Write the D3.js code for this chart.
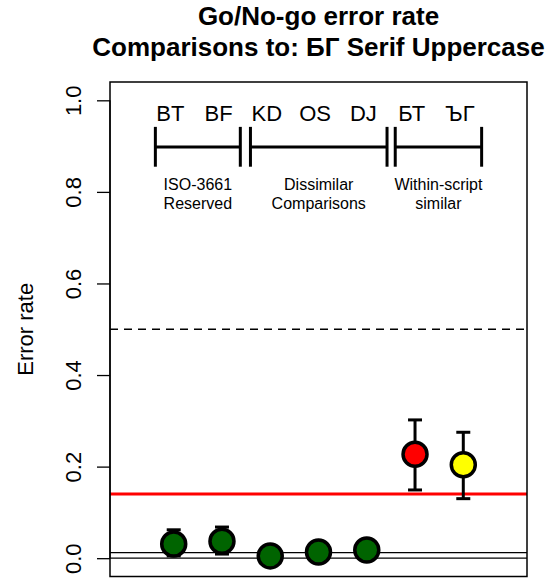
<!DOCTYPE html>
<html>
<head>
<meta charset="utf-8">
<script src="https://cdn.jsdelivr.net/npm/d3@7"></script>
<style>
  html, body { margin: 0; padding: 0; background: #fff; }
  svg { display: block; font-family: "Liberation Sans", Arial, Helvetica, sans-serif; }
</style>
</head>
<body>
<svg id="chart" width="546" height="579"></svg>
<script>
// Comparison letter pairs and their error rates with confidence bounds
const pairs     = ["BT", "BF", "KD", "OS", "DJ", "БТ", "ЪГ"];
const errorRate = [0.031, 0.037, 0.005, 0.0135, 0.018, 0.227, 0.204];
const lowerCI   = [0.005, 0.009, 0.000, 0.004, 0.008, 0.149, 0.130];
const upperCI   = [0.062, 0.068, 0.015, 0.026, 0.030, 0.302, 0.275];
const pointFill = ["#006400", "#006400", "#006400", "#006400", "#006400", "#ff0000", "#ffff00"];

// Comparison groups (x-extent on the pair index axis) and their captions
const groupNames = [["ISO-3661", "Reserved"], ["Dissimilar", "Comparisons"], ["Within-script", "similar"]];
const groupStart = [0.62, 2.59, 5.59];
const groupEnd   = [2.38, 5.42, 7.38];

// Reference levels
const chanceLevel   = 0.5;
const baselineRate  = 0.140;
const floorRates    = [0.0, 0.012];

const yTicks = [0, 0.2, 0.4, 0.6, 0.8, 1.0];

const svg = d3.select("#chart");
const plot = { left: 110, right: 527, top: 82, bottom: 576.5 };

const x = d3.scaleLinear().domain([-0.32, 8.32]).range([plot.left, plot.right]);
const y = d3.scaleLinear().domain([-0.04, 1.04]).range([plot.bottom, plot.top]);

// Title
const title = svg.append("g").attr("font-weight", "bold").attr("font-size", 26)
  .attr("text-anchor", "middle");
title.append("text").attr("x", (plot.left + plot.right) / 2).attr("y", 25).text("Go/No-go error rate");
title.append("text").attr("x", (plot.left + plot.right) / 2).attr("y", 56).text("Comparisons to: БГ Serif Uppercase");

// Reference lines
svg.append("line")
  .attr("x1", plot.left).attr("x2", plot.right)
  .attr("y1", y(chanceLevel)).attr("y2", y(chanceLevel))
  .attr("stroke", "#000").attr("stroke-width", 1.5).attr("stroke-dasharray", "8,6");

svg.selectAll("line.floor").data(floorRates).enter().append("line")
  .attr("class", "floor")
  .attr("x1", plot.left).attr("x2", plot.right)
  .attr("y1", d => y(d)).attr("y2", d => y(d))
  .attr("stroke", "#000").attr("stroke-width", 1.3);

svg.append("line")
  .attr("x1", plot.left).attr("x2", plot.right)
  .attr("y1", y(baselineRate)).attr("y2", y(baselineRate))
  .attr("stroke", "#ff0000").attr("stroke-width", 3);

// Error bars
const idx = d3.range(pairs.length);
const bars = svg.append("g").attr("stroke", "#000").attr("stroke-width", 3);
bars.selectAll("line.stem").data(idx).enter().append("line")
  .attr("x1", i => x(i + 1)).attr("x2", i => x(i + 1))
  .attr("y1", i => y(lowerCI[i])).attr("y2", i => y(upperCI[i]));
[lowerCI, upperCI].forEach(bound => {
  bars.selectAll(null).data(idx).enter().append("line")
    .attr("x1", i => x(i + 1) - 7).attr("x2", i => x(i + 1) + 7)
    .attr("y1", i => y(bound[i])).attr("y2", i => y(bound[i]));
});

// Points
svg.append("g").selectAll("circle").data(idx).enter().append("circle")
  .attr("cx", i => x(i + 1)).attr("cy", i => y(errorRate[i]))
  .attr("r", 12)
  .attr("fill", i => pointFill[i])
  .attr("stroke", "#000").attr("stroke-width", 3.5);

// Pair labels along the top
svg.append("g").attr("font-size", 22).attr("text-anchor", "middle")
  .selectAll("text").data(idx).enter().append("text")
  .attr("x", i => x(i + 1 - 0.07)).attr("y", y(0.955))
  .text(i => pairs[i]);

// Group brackets
const brackets = svg.append("g").attr("stroke", "#000").attr("stroke-width", 3);
groupStart.forEach((s, g) => {
  const e = groupEnd[g];
  brackets.append("line").attr("x1", x(s)).attr("x2", x(e)).attr("y1", y(0.898)).attr("y2", y(0.898));
  [s, e].forEach(v => brackets.append("line")
    .attr("x1", x(v)).attr("x2", x(v)).attr("y1", y(0.942)).attr("y2", y(0.855)));
});

const captions = svg.append("g").attr("font-size", 16).attr("text-anchor", "middle");
groupNames.forEach((lines, g) => {
  const cx = x((groupStart[g] + groupEnd[g]) / 2);
  lines.forEach((t, k) => {
    captions.append("text").attr("x", cx).attr("y", y(0.804) + k * 18.5).text(t);
  });
});

// Y axis
const axis = svg.append("g").attr("transform", `translate(${plot.left},0)`)
  .call(d3.axisLeft(y).tickValues(yTicks).tickFormat(d3.format(".1f")).tickSize(13).tickPadding(0));
axis.select(".domain").attr("stroke-width", 1.3).attr("d", `M0,${y(0)}V${y(1)}`);
axis.selectAll(".tick line").attr("stroke-width", 1.3);
axis.selectAll(".tick text")
  .attr("font-size", 22).attr("font-family", "Liberation Sans, Arial, sans-serif")
  .attr("fill", "#000")
  .attr("text-anchor", "middle").attr("dy", null)
  .attr("dominant-baseline", "central")
  .attr("transform", "rotate(-90)")
  .attr("x", 0).attr("y", -37);

svg.append("text")
  .attr("transform", `translate(25,${(plot.top + plot.bottom) / 2}) rotate(-90)`)
  .attr("text-anchor", "middle").attr("dominant-baseline", "central")
  .attr("font-size", 22).text("Error rate");

// Plot frame
svg.append("rect")
  .attr("x", plot.left).attr("y", plot.top)
  .attr("width", plot.right - plot.left).attr("height", plot.bottom - plot.top)
  .attr("fill", "none").attr("stroke", "#000").attr("stroke-width", 1.5);
</script>
</body>
</html>
